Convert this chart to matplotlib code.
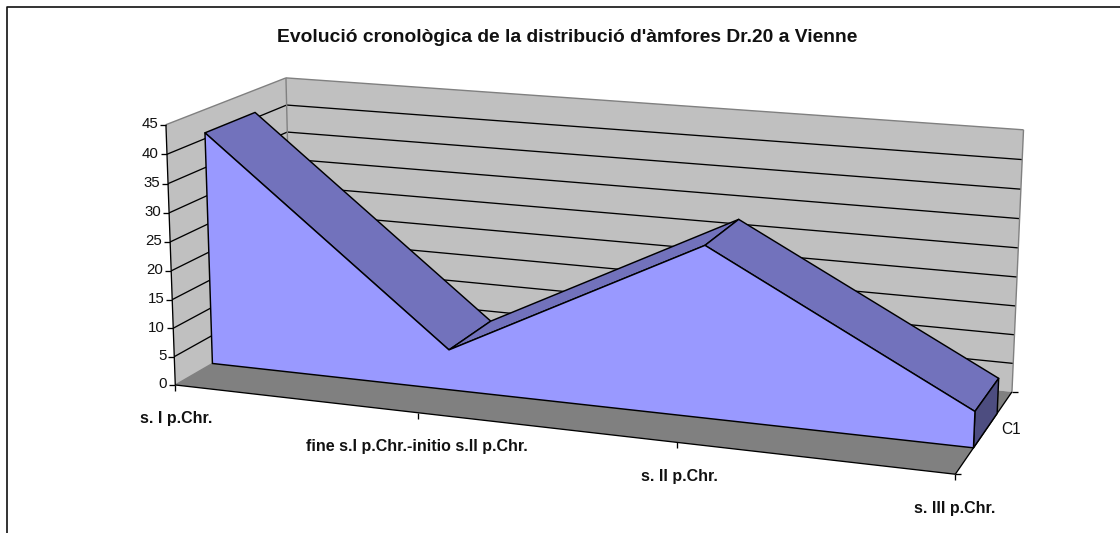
import numpy as np
import matplotlib
matplotlib.use("Agg")
import matplotlib.pyplot as plt
from matplotlib.patches import Polygon

plt.rcParams['font.family'] = ['Liberation Sans', 'DejaVu Sans']

TITLE = "Evolució cronològica de la distribució d'àmfores Dr.20 a Vienne"
categories = ["s. I p.Chr.", "fine s.I p.Chr.-initio s.II p.Chr.", "s. II p.Chr.", "s. III p.Chr."]
series_name = "C1"
values = [41, 7, 29, 6]
value_ticks = [0, 5, 10, 15, 20, 25, 30, 35, 40, 45]
VMAX = 45

# calibration of the 3D view: world (u, value, depth) -> pixel
calib_world = [(0, 0, 0), (0, 45, 0), (1, 0, 0), (0, 45, 1), (0, 0, 1), (1, 45, 1), (1, 0, 1)]
calib_pixel = [(176, 383.5), (165, 125.5), (955.5, 475), (287, 77), (291, 319), (1023.3, 130), (1012, 391)]
A = []
b = []
for (u, v, w), (px, py) in zip(calib_world, calib_pixel):
    A.append([u, v, w, 1, 0, 0, 0, 0, -px*u, -px*v, -px*w])
    A.append([0, 0, 0, 0, u, v, w, 1, -py*u, -py*v, -py*w])
    b += [px, py]
M = np.linalg.lstsq(np.array(A, float), np.array(b, float), rcond=None)[0]
M = np.append(M, 1.0).reshape(3, 4)


def P(u, v, w):
    h = M @ np.array([u, v, w, 1.0])
    return (h[0] / h[2], h[1] / h[2])


fig = plt.figure(figsize=(11.2, 5.33), dpi=100)
ax = fig.add_axes([0, 0, 1, 1])
ax.set_xlim(0, 1120)
ax.set_ylim(533, 0)
ax.axis('off')

BLACK = '#000000'
WALL = '#C0C0C0'
FLOOR = '#808080'
FRONT = '#9999FF'
TOP = '#7272BC'
SIDE = '#4D4D80'


def poly(pts, fc, ec=None, lw=1.05, z=2):
    ax.add_patch(Polygon(pts, closed=True, facecolor=fc,
                         edgecolor=ec if ec else 'none', lw=lw if ec else 0, zorder=z, joinstyle='round'))


def line(p, q, c=BLACK, lw=0.95, z=3):
    ax.plot([p[0], q[0]], [p[1], q[1]], color=c, lw=lw, zorder=z, solid_capstyle='butt')


# chart frame
ax.plot([6.5, 6.5, 1120], [533, 7, 7], color='#111111', lw=1.2, zorder=1)

# walls and floor
poly([P(0, 0, 0), P(0, VMAX, 0), P(0, VMAX, 1), P(0, 0, 1)], WALL, z=2)
poly([P(0, 0, 1), P(0, VMAX, 1), P(1, VMAX, 1), P(1, 0, 1)], WALL, z=2)
poly([P(0, 0, 0), P(1, 0, 0), P(1, 0, 1), P(0, 0, 1)], FLOOR, z=2)

for t in value_ticks[1:-1]:
    line(P(0, t, 0), P(0, t, 1), z=3)
    line(P(0, t, 1), P(1, t, 1), z=3)
for a, c in [((0, VMAX, 0), (0, VMAX, 1)), ((0, VMAX, 1), (1, VMAX, 1)), ((1, VMAX, 1), (1, 0, 1)),
             ((0, VMAX, 1), (0, 0, 1)), ((0, 0, 0), (0, 0, 1))]:
    line(P(*a), P(*c), c='#808080', lw=1.0, z=3)

# axes lines and ticks
line(P(0, 0, 0), P(0, VMAX, 0), z=4)
line(P(0, 0, 0), P(1, 0, 0), z=4)
line(P(1, 0, 0), P(1, 0, 1), z=4)
for t in value_ticks:
    x, y = P(0, t, 0)
    line((x - 6, y), (x, y), z=4)
    ax.text(x - 8, y - 0.5, str(t), ha='right', va='center', fontsize=10.8, color='#111111', zorder=6)
n = len(categories)
for i in range(n):
    x, y = P(i / (n - 1), 0, 0)
    line((x, y), (x, y + 6), z=4)
for w in (0, 1):
    x, y = P(1, 0, w)
    line((x, y), (x + 6, y), z=4)

# area series
W0, W1 = 0.30, 0.72
us = [i / (n - 1) for i in range(n)]
front_top = [P(u, v, W0) for u, v in zip(us, values)]
back_top = [P(u, v, W1) for u, v in zip(us, values)]

# top strips, drawn back to front
for i in range(n - 1):
    poly([front_top[i], front_top[i + 1], back_top[i + 1], back_top[i]], TOP, BLACK, z=5)
poly([P(1, 0, W0), P(1, values[-1], W0), P(1, values[-1], W1), P(1, 0, W1)], SIDE, BLACK, z=5)
poly([P(0, 0, W0)] + front_top + [P(1, 0, W0)], FRONT, BLACK, z=6)

# labels
label_pos = [(176, 418), (416.5, 446), (679, 476), (955, 509)]
for name, (x, y) in zip(categories, label_pos):
    ax.text(x, y, name, ha='center', va='center', fontsize=11.5, fontweight='bold', color='#111111', zorder=7)
ax.text(1011.5, 430, series_name, ha='center', va='center', fontsize=11.2, color='#111111', zorder=7)
ax.text(567, 37, TITLE, ha='center', va='center', fontsize=13.9, fontweight='bold', color='#111111', zorder=7)

fig.savefig('out.png', dpi=100)
